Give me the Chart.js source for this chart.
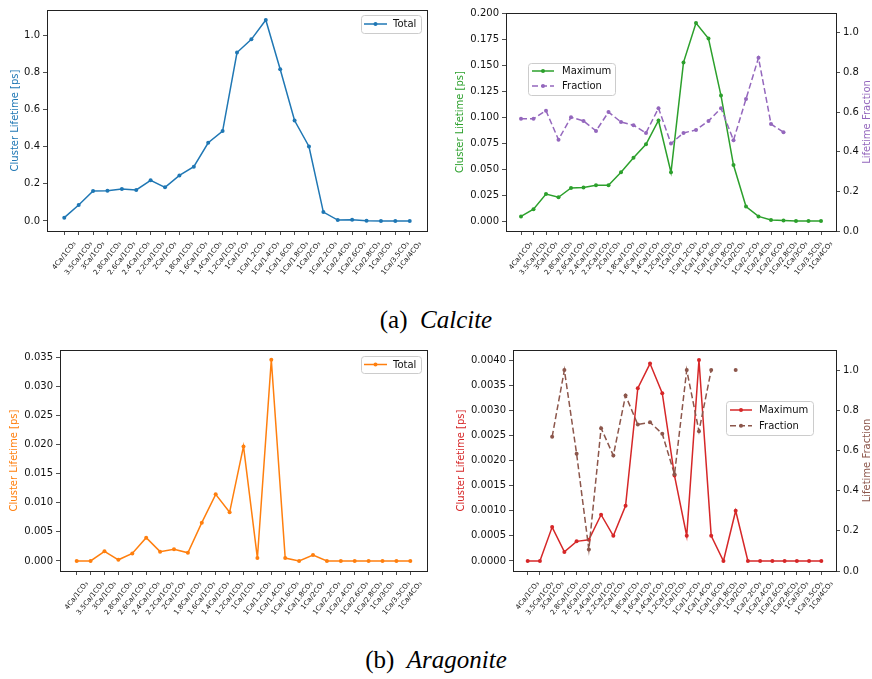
<!DOCTYPE html>
<html>
<head>
<meta charset="utf-8">
<script src="https://cdn.jsdelivr.net/npm/chart.js@4"></script>
<style>
  body { margin: 0; background: #fff; width: 872px; height: 679px; position: relative; overflow: hidden; }
  canvas { position: absolute; }
  .caption { position: absolute; left: 0; width: 872px; text-align: center; font-family: "Liberation Serif", serif; font-size: 25px; line-height: 30px; color: #000; }
</style>
</head>
<body>
<canvas id="c1" width="440" height="305" style="left:0;top:0"></canvas>
<canvas id="c2" width="432" height="305" style="left:440px;top:0"></canvas>
<div class="caption" style="top:305px">(a)&nbsp; <i>Calcite</i></div>
<canvas id="c3" width="440" height="305" style="left:0;top:340px"></canvas>
<canvas id="c4" width="432" height="305" style="left:440px;top:340px"></canvas>
<div class="caption" style="top:645px">(b)&nbsp; <i>Aragonite</i></div>
<script>
const categories = ['4Ca/1CO₃', '3.5Ca/1CO₃', '3Ca/1CO₃', '2.8Ca/1CO₃', '2.6Ca/1CO₃', '2.4Ca/1CO₃', '2.2Ca/1CO₃',
    '2Ca/1CO₃', '1.8Ca/1CO₃', '1.6Ca/1CO₃', '1.4Ca/1CO₃', '1.2Ca/1CO₃', '1Ca/1CO₃', '1Ca/1.2CO₃', '1Ca/1.4CO₃',
    '1Ca/1.6CO₃', '1Ca/1.8CO₃', '1Ca/2CO₃', '1Ca/2.2CO₃', '1Ca/2.4CO₃', '1Ca/2.6CO₃', '1Ca/2.8CO₃', '1Ca/3CO₃',
    '1Ca/3.5CO₃', '1Ca/4CO₃'];

// calcite
const calciteTotal = [0.018, 0.086, 0.161, 0.163, 0.172, 0.167, 0.219, 0.181, 0.245, 0.292, 0.421, 0.484, 0.907,
    0.978, 1.082, 0.817, 0.541, 0.401, 0.048, 0.005, 0.006, 0.001, 0.0, 0.0, 0.0];
const calciteMaximum = [0.0045, 0.0115, 0.026, 0.023, 0.032, 0.0325, 0.0345, 0.0345, 0.047, 0.061, 0.074, 0.097,
    0.047, 0.153, 0.191, 0.176, 0.121, 0.054, 0.014, 0.0045, 0.001, 0.0005, 0.0, 0.0, 0.0];
const calciteFraction = [0.567, 0.567, 0.607, 0.461, 0.574, 0.555, 0.505, 0.60, 0.55, 0.534, 0.495, 0.62, 0.441,
    0.495, 0.51, 0.555, 0.62, 0.458, 0.666, 0.874, 0.54, 0.498, null, null, null];

// aragonite
const aragoniteTotal = [0.0, 0.0, 0.00166, 0.0002, 0.0013, 0.0040, 0.0016, 0.0020, 0.0014, 0.00658, 0.01144, 0.00835,
    0.01967, 0.0005, 0.03454, 0.0005, 0.0, 0.00103, 0.0, 0.0, 0.0, 0.0, 0.0, 0.0, 0.0];
const aragoniteMaximum = [0.0, 0.0, 0.000675, 0.00018, 0.00039, 0.00042, 0.00092, 0.0005, 0.0011, 0.00344, 0.00393,
    0.00334, 0.0017, 0.0005, 0.0040, 0.0005, 0.0, 0.0010, 0.0, 0.0, 0.0, 0.0, 0.0, 0.0, 0.0];
const aragoniteFraction = [null, null, 0.668, 1.0, 0.583, 0.107, 0.711, 0.575, 0.874, 0.729, 0.74, 0.683, 0.481,
    1.0, 0.696, 1.0, null, 1.0, null, null, null, null, null, null, null];

// tick labels
const calciteTotalTicks = [0.0, 0.2, 0.4, 0.6, 0.8, 1.0];
const calciteMaxTicks = [0.0, 0.025, 0.05, 0.075, 0.1, 0.125, 0.15, 0.175, 0.2];
const aragoniteTotalTicks = [0.0, 0.005, 0.01, 0.015, 0.02, 0.025, 0.03, 0.035];
const aragoniteMaxTicks = [0.0, 0.0005, 0.001, 0.0015, 0.002, 0.0025, 0.003, 0.0035, 0.004];
const fractionTicks = [0.0, 0.2, 0.4, 0.6, 0.8, 1.0];

const FONT = '"DejaVu Sans", sans-serif';
const INK = '#111';
const XFONT = 7;
const XROT = 52 * Math.PI / 180;

function toPoints(arr) {
    return arr.map((v, i) => ({x: i, y: v}));
}

// frame, rotated centred category labels, rotated y titles and an in-axes legend (matplotlib style)
const panelDecor = {
    id: 'panelDecor',
    afterDraw(chart, args, opts) {
        const ctx = chart.ctx;
        const a = chart.chartArea;
        ctx.save();
        ctx.strokeStyle = '#222';
        ctx.lineWidth = 1;
        ctx.strokeRect(Math.round(a.left) + 0.5, Math.round(a.top) + 0.5,
            Math.round(a.right - a.left), Math.round(a.bottom - a.top));

        // category labels: bbox centred on the tick, top just under the tick mark
        const xs = chart.scales.x;
        ctx.font = XFONT + 'px ' + FONT;
        ctx.fillStyle = INK;
        ctx.textAlign = 'center';
        ctx.textBaseline = 'middle';
        categories.forEach((c, i) => {
            const px = xs.getPixelForValue(i);
            const len = ctx.measureText(c).width;
            const boxH = len * Math.sin(XROT) + XFONT * 1.1 * Math.cos(XROT);
            ctx.save();
            ctx.translate(px, a.bottom + 9 + boxH / 2);
            ctx.rotate(-XROT);
            ctx.fillText(c, 0, 0);
            ctx.restore();
        });

        ctx.font = '10px ' + FONT;
        (opts.titles || []).forEach(t => {
            ctx.save();
            ctx.translate(t.x, (a.top + a.bottom) / 2);
            ctx.rotate(-Math.PI / 2);
            ctx.fillStyle = t.color;
            ctx.fillText(t.text, 0, 0);
            ctx.restore();
        });

        const lg = opts.legend;
        if (lg) {
            ctx.beginPath();
            if (ctx.roundRect) ctx.roundRect(lg.x + 0.5, lg.y + 0.5, lg.w, lg.h, 3);
            else ctx.rect(lg.x + 0.5, lg.y + 0.5, lg.w, lg.h);
            ctx.fillStyle = 'rgba(255,255,255,0.8)';
            ctx.fill();
            ctx.strokeStyle = '#cccccc';
            ctx.stroke();
            chart.data.datasets.forEach((ds, i) => {
                const y = lg.rows[i];
                ctx.strokeStyle = ds.borderColor;
                ctx.lineWidth = 1.5;
                ctx.setLineDash(ds.borderDash || []);
                ctx.beginPath();
                ctx.moveTo(lg.x1, y);
                ctx.lineTo(lg.x2, y);
                ctx.stroke();
                ctx.setLineDash([]);
                ctx.fillStyle = ds.borderColor;
                ctx.beginPath();
                ctx.arc((lg.x1 + lg.x2) / 2, y, 2, 0, Math.PI * 2);
                ctx.fill();
                ctx.fillStyle = INK;
                ctx.textAlign = 'left';
                ctx.fillText(ds.label, lg.tx, y + 0.5);
            });
        }
        ctx.restore();
    }
};

function lineSet(label, values, color, axis, dashed) {
    return {
        label: label,
        data: toPoints(values),
        yAxisID: axis,
        borderColor: color,
        backgroundColor: color,
        borderWidth: 1.5,
        borderDash: dashed ? [6, 3] : [],
        pointRadius: 2,
        pointBorderWidth: 0,
        pointBackgroundColor: color,
        tension: 0,
        order: dashed ? 0 : 1
    };
}

function yScale(pos, min, max, tickList, digits, width) {
    return {
        type: 'linear',
        position: pos,
        min: min,
        max: max,
        afterBuildTicks: s => { s.ticks = tickList.map(v => ({value: v})); },
        afterFit: s => { s.width = width; },
        grid: {display: true, drawOnChartArea: false, drawTicks: true, tickLength: 4, color: '#222', lineWidth: 0.8},
        border: {display: false},
        ticks: {
            font: {family: FONT, size: 10},
            color: INK,
            padding: 3,
            callback: v => v.toFixed(digits)
        }
    };
}

function xScale() {
    return {
        type: 'linear',
        min: -1.2,
        max: 25.2,
        afterBuildTicks: s => { s.ticks = categories.map((c, i) => ({value: i})); },
        afterFit: s => { s.height = 74; },
        grid: {display: true, drawOnChartArea: false, drawTicks: true, tickLength: 4, color: '#222', lineWidth: 0.8},
        border: {display: false},
        ticks: {display: false, autoSkip: false}
    };
}

function makeChart(id, datasets, scales, padding, decor) {
    return new Chart(document.getElementById(id).getContext('2d'), {
        type: 'line',
        data: {datasets: datasets},
        options: {
            responsive: false,
            animation: false,
            layout: {padding: padding},
            scales: scales,
            plugins: {
                legend: {display: false},
                tooltip: {enabled: false},
                panelDecor: decor
            }
        },
        plugins: [panelDecor]
    });
}

// (a) calcite, total
makeChart('c1',
    [lineSet('Total', calciteTotal, '#1f77b4', 'y', false)],
    {x: xScale(), y: yScale('left', -0.054, 1.136, calciteTotalTicks, 1, 47)},
    {left: 0, right: 13, top: 10, bottom: 0},
    {
        titles: [{text: 'Cluster Lifetime [ps]', x: 15, color: '#1f77b4'}],
        legend: {x: 361, y: 15, w: 60, h: 18, rows: [24], x1: 364, x2: 387, tx: 393}
    });

// (a) calcite, maximum + fraction
makeChart('c2',
    [lineSet('Maximum', calciteMaximum, '#2ca02c', 'y', false),
     lineSet('Fraction', calciteFraction, '#9467bd', 'y1', true)],
    {
        x: xScale(),
        y: yScale('left', -0.00955, 0.2006, calciteMaxTicks, 3, 66),
        y1: yScale('right', 0, 1.1, fractionTicks, 1, 36)
    },
    {left: 0, right: 0, top: 13, bottom: 0},
    {
        titles: [{text: 'Cluster Lifetime [ps]', x: 20, color: '#2ca02c'},
                 {text: 'Lifetime Fraction', x: 427, color: '#9467bd'}],
        legend: {x: 88, y: 63, w: 87, h: 32, rows: [71, 86], x1: 92, x2: 114, tx: 122}
    });

// (b) aragonite, total
makeChart('c3',
    [lineSet('Total', aragoniteTotal, '#ff7f0e', 'y', false)],
    {x: xScale(), y: yScale('left', -0.001725, 0.036225, aragoniteTotalTicks, 3, 60)},
    {left: 0, right: 13, top: 10, bottom: 0},
    {
        titles: [{text: 'Cluster Lifetime [ps]', x: 14, color: '#ff7f0e'}],
        legend: {x: 361, y: 16, w: 60, h: 17, rows: [24.5], x1: 364, x2: 387, tx: 393}
    });

// (b) aragonite, maximum + fraction
makeChart('c4',
    [lineSet('Maximum', aragoniteMaximum, '#d62728', 'y', false),
     lineSet('Fraction', aragoniteFraction, '#8c564b', 'y1', true)],
    {
        x: xScale(),
        y: yScale('left', -0.0002, 0.0042, aragoniteMaxTicks, 4, 73),
        y1: yScale('right', 0, 1.1, fractionTicks, 1, 36)
    },
    {left: 0, right: 0, top: 10, bottom: 0},
    {
        titles: [{text: 'Cluster Lifetime [ps]', x: 21, color: '#d62728'},
                 {text: 'Lifetime Fraction', x: 427, color: '#8c564b'}],
        legend: {x: 286, y: 61, w: 87, h: 34, rows: [70, 85.7], x1: 290, x2: 312, tx: 319}
    });
</script>
</body>
</html>
